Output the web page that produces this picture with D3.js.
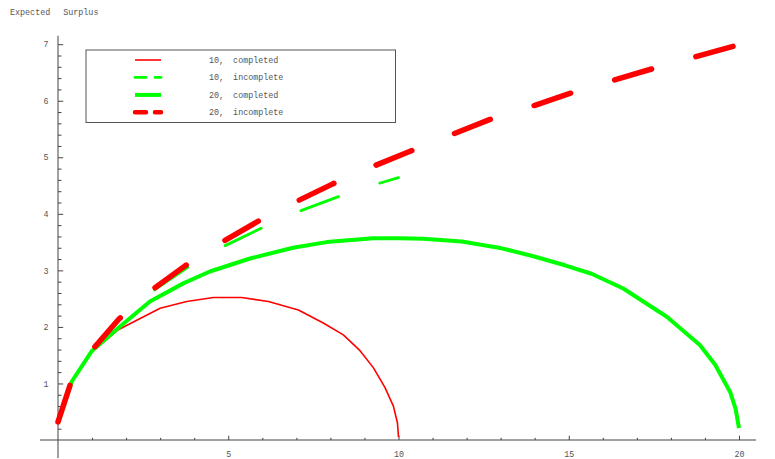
<!DOCTYPE html>
<html>
<head>
<meta charset="utf-8">
<script src="https://cdn.jsdelivr.net/npm/d3@7"></script>
<style>
  body { margin: 0; background: #fff; }
  text { font-family: "Liberation Mono", "Courier New", monospace; fill: #555; }
</style>
</head>
<body>
<div id="chart"></div>
<script>
// data: [x, expected surplus]
const red10Completed = [[0,0.32],[0.4,1.02],[1.0,1.56],[1.77,1.95],[3.0,2.33],[3.78,2.45],[4.56,2.52],[5.39,2.52],
  [6.18,2.45],[7.06,2.30],[7.79,2.07],[8.38,1.86],[8.87,1.58],[9.26,1.28],[9.6,0.93],[9.85,0.6],[9.97,0.3],[10.0,0.05]];
const green10Incomplete = [[0,0.32],[0.37,1.0],[1.04,1.61],[1.79,2.12],[2.75,2.62],[3.78,3.04],[4.85,3.42],
  [5.98,3.75],[7.11,4.05],[8.31,4.32],[9.49,4.55],[10.0,4.64]];
const green20Completed = [[0,0.29],[0.4,1.03],[1.0,1.58],[1.77,1.98],[2.7,2.45],[3.68,2.77],[4.46,2.98],[5.64,3.21],
  [6.9,3.40],[7.89,3.50],[9.26,3.57],[10.04,3.57],[10.73,3.56],[11.86,3.51],[13.03,3.39],[13.96,3.25],[14.89,3.09],
  [15.67,2.94],[16.6,2.68],[17.88,2.18],[18.85,1.68],[19.3,1.33],[19.74,0.85],[19.9,0.55],[20.0,0.21]];
const red20Incomplete = [[0,0.32],[0.37,1.0],[1.04,1.62],[1.79,2.14],[2.75,2.65],[3.73,3.08],[4.76,3.48],[5.88,3.87],
  [6.94,4.20],[8.07,4.53],[9.21,4.83],[10.36,5.11],[11.51,5.39],[12.69,5.67],[13.86,5.89],[15.09,6.14],[16.24,6.35],
  [17.48,6.57],[18.68,6.77],[20.0,6.99]];

const legendLabels = ["10, completed", "10, incomplete", "20, completed", "20, incomplete"];
const xMajor = [5, 10, 15, 20];
const xMinor = [1,2,3,4,6,7,8,9,11,12,13,14,16,17,18,19];
const yMajor = [1, 2, 3, 4, 5, 6, 7];

const W = 775, H = 459;
const svg = d3.select('#chart').append('svg')
  .attr('width', W).attr('height', H);

const x = d3.scaleLinear().domain([0, 20]).range([58, 739]);
const y = d3.scaleLinear().domain([0, 7]).range([440, 44.2]);

const series = [
  { data: red10Completed,    color: '#ff0000', width: 1.6, dash: null },
  { data: green10Incomplete, color: '#00ff00', width: 2.8, dash: '40,43.5', legDash: '11,9' },
  { data: green20Completed,  color: '#00ff00', width: 4,   dash: null },
  { data: red20Incomplete,   color: '#ff0000', width: 5.5, dash: '38.5,46', legDash: '11,9' }
];

// axes
const axisCol = '#444';
svg.append('line').attr('x1', x(-0.53)).attr('x2', x(20.5)).attr('y1', y(0)).attr('y2', y(0))
  .attr('stroke', axisCol).attr('stroke-width', 1);
svg.append('line').attr('x1', x(0)).attr('x2', x(0)).attr('y1', y(7.15)).attr('y2', y(-0.32))
  .attr('stroke', axisCol).attr('stroke-width', 1);

const gx = svg.append('g').attr('transform', `translate(0,${y(0)})`)
  .call(d3.axisBottom(x).tickValues(xMajor).tickSize(-4.3).tickSizeOuter(0).tickPadding(11.5)
    .tickFormat(d3.format('d')));
const gxm = svg.append('g').attr('transform', `translate(0,${y(0)})`)
  .call(d3.axisBottom(x).tickValues(xMinor).tickSize(-2.2).tickSizeOuter(0).tickFormat(''));

const yMinor = d3.range(1, 36).map(i => i / 5).filter(v => Math.abs(v - Math.round(v)) > 1e-6);
const gy = svg.append('g').attr('transform', `translate(${x(0)},0)`)
  .call(d3.axisLeft(y).tickValues(yMajor).tickSize(-5.2).tickSizeOuter(0).tickPadding(9.5)
    .tickFormat(d3.format('d')));
const gym = svg.append('g').attr('transform', `translate(${x(0)},0)`)
  .call(d3.axisLeft(y).tickValues(yMinor).tickSize(-3.5).tickSizeOuter(0).tickFormat(''));

[gx, gxm, gy, gym].forEach(g => {
  g.select('.domain').remove();
  g.selectAll('.tick line').attr('stroke', axisCol);
  g.selectAll('.tick text').style('font-family', '"Liberation Mono", "Courier New", monospace')
    .style('font-size', '8.4px').attr('fill', '#666');
});

// curves
const line = d3.line().x(d => x(d[0])).y(d => y(d[1]));
series.forEach(s => {
  svg.append('path').datum(s.data)
    .attr('d', line)
    .attr('fill', 'none')
    .attr('stroke', s.color)
    .attr('stroke-width', s.width)
    .attr('stroke-linejoin', 'round')
    .attr('stroke-linecap', s.dash ? 'round' : 'butt')
    .attr('stroke-dasharray', s.dash);
});

// axis label
svg.append('text').attr('x', 10).attr('y', 15)
  .style('font-size', '8.4px').style('word-spacing', '8px')
  .text('Expected Surplus');

// legend
const leg = svg.append('g');
leg.append('rect').attr('x', 86).attr('y', 50).attr('width', 309.5).attr('height', 72.5)
  .attr('fill', '#fff').attr('stroke', '#555').attr('stroke-width', 1);
series.forEach((s, i) => {
  const ry = 60 + i * 17.45;
  leg.append('line').attr('x1', 135).attr('x2', 161).attr('y1', ry).attr('y2', ry)
    .attr('stroke', s.color).attr('stroke-width', Math.min(s.width, 4.5))
    .attr('stroke-linecap', s.dash ? 'round' : 'butt')
    .attr('stroke-dasharray', s.legDash || null);
  leg.append('text').attr('x', 209).attr('y', ry + 3)
    .style('font-size', '8.4px').style('word-spacing', '4px')
    .text(legendLabels[i]);
});
</script>
</body>
</html>
